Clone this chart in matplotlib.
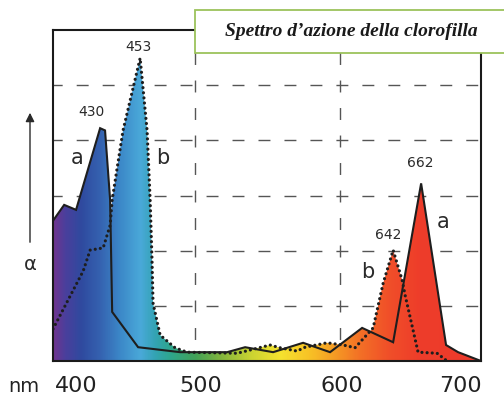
import matplotlib
matplotlib.use("Agg")
import matplotlib.pyplot as plt
import numpy as np
from matplotlib.colors import LinearSegmentedColormap, Normalize
from matplotlib.patches import Rectangle

# chlorophyll a (solid) and b (dotted): wavelength (nm) vs relative action
wl_a = [401.4, 409.7, 417.9, 434.5, 437.9, 441.4, 442.8, 460.7, 489.7, 522.1,
        534.5, 553.8, 574.5, 593.1, 615.2, 636.6, 655.9, 673.1, 681.4, 697.2]
val_a = [2.52, 2.83, 2.74, 4.22, 4.18, 2.92, 0.89, 0.25, 0.16, 0.16,
         0.25, 0.16, 0.33, 0.16, 0.60, 0.34, 3.22, 0.29, 0.16, 0.0]

wl_b = [402.0, 422.8, 427.6, 436.6, 441.4, 442.8, 450.3, 462.1, 466.9, 469.0,
        470.3, 471.0, 475.9, 486.2, 494.5, 529.0, 551.7, 558.6, 570.3, 575.9,
        591.0, 602.1, 610.3, 622.8, 629.7, 636.6, 642.8, 644.8, 653.8, 666.9, 673.8]
val_b = [0.58, 1.63, 2.01, 2.05, 2.46, 2.92, 4.18, 5.49, 4.18, 2.92,
         1.83, 1.05, 0.47, 0.24, 0.16, 0.14, 0.29, 0.24, 0.18, 0.25,
         0.33, 0.29, 0.24, 0.60, 1.41, 2.01, 1.47, 1.20, 0.16, 0.14, 0.0]

# peak labels: text, peak index in its series, which series
peak_text = ["430", "453", "642", "662"]
peak_series = ["a", "b", "b", "a"]
peak_idx = [3, 7, 25, 16]

tick_wl = [418, 504, 601, 683]
tick_labels = ["400", "500", "600", "700"]

title = "Spettro d\u2019azione della clorofilla"

# spectrum colours along the wavelength axis
spec_wl = [402, 410, 421, 434, 448, 462, 472, 483, 500, 517, 538, 559, 579,
           597, 614, 634, 655, 697.2]
spec_col = ["#6e3590", "#4a3f9c", "#2f4a9f", "#3562b0", "#3c88c8", "#4aa9d9",
            "#33a3b4", "#2ea68c", "#42a258", "#7fb43e", "#c9d332", "#f5e22f",
            "#f8c226", "#f59a24", "#f37026", "#f04f29", "#ee3d2a", "#ec3a2c"]

fig = plt.figure(figsize=(5.04, 3.98), dpi=100)
ax = fig.add_axes([53 / 504, 37 / 398, 428 / 504, 331 / 398])
xmin, xmax = 402.0, 697.2
ax.set_xlim(xmin, xmax)
ax.set_ylim(0, 6)

# dashed grid
for y in range(1, 6):
    ax.axhline(y, color="#555555", lw=1, ls=(2, (8.6, 10.1)), zorder=1)
for x in [500, 600]:
    ax.axvline(x, color="#555555", lw=1, ls=(4.3, (8.6, 11.2)), zorder=1)

# gradient fill under both curves
pos = (np.array(spec_wl) - xmin) / (xmax - xmin)
cmap = LinearSegmentedColormap.from_list("spec", list(zip(pos, spec_col)))
grad = np.linspace(xmin, xmax, 800)[None, :]
for wl, val in [(wl_a, val_a), (wl_b, val_b)]:
    fb = ax.fill_between(wl, 0, val, color="none", lw=0)
    im = ax.imshow(grad, extent=(xmin, xmax, 0, 6), aspect="auto", cmap=cmap,
                   norm=Normalize(xmin, xmax), zorder=1.5, interpolation="bilinear")
    im.set_clip_path(fb.get_paths()[0], ax.transData)

ax.plot(wl_a, val_a, color="#1e1e1e", lw=1.5, zorder=3, solid_joinstyle="miter")
ax.plot(wl_b, val_b, color="#1e1e1e", lw=2.3, ls=(0, (0.01, 1.6)),
        dash_capstyle="round", zorder=3)

series = {"a": (wl_a, val_a), "b": (wl_b, val_b)}
offsets = [(-6.5, 11.5), (-1.5, 8), (-3.6, 10.8), (-0.7, 14.4)]
for txt, s, i, off in zip(peak_text, peak_series, peak_idx, offsets):
    w, v = series[s]
    ax.annotate(txt, xy=(w[i], v[i]), xytext=off, textcoords="offset points",
                ha="center", va="center", fontsize=10, color="#2a2a2a", zorder=4)

for txt, x, y in [("a", 418.6, 3.68), ("b", 477.9, 3.68),
                  ("b", 619.3, 1.61), ("a", 671.0, 2.52)]:
    ax.text(x, y, txt, ha="center", va="center", fontsize=15, color="#2a2a2a", zorder=4)

ax.set_yticks([])
ax.set_xticks(tick_wl, tick_labels)
ax.tick_params(axis="x", length=0, pad=11, labelsize=16, labelcolor="#222222")
for sp in ax.spines.values():
    sp.set_linewidth(1.5)
    sp.set_color("#1a1a1a")
    sp.set_zorder(5)

# title box over the top right
fig.add_artist(Rectangle((195 / 504, 1 - 53 / 398), 320 / 504, 43 / 398,
                         transform=fig.transFigure, facecolor="white",
                         edgecolor="#9cc35c", lw=1.3, zorder=5, clip_on=False))
fig.text(351 / 504, 1 - 32 / 398, title, ha="center", va="center",
         family="Liberation Serif", style="italic", weight="bold",
         fontsize=14, color="#1a1a1a", zorder=6)

# y-axis arrow and alpha label, x unit
ax.annotate("", xy=(30 / 504, 1 - 110 / 398), xytext=(30 / 504, 1 - 245 / 398),
            xycoords="figure fraction", textcoords="figure fraction",
            arrowprops=dict(arrowstyle="-|>", lw=1, color="#2a2a2a",
                            mutation_scale=13))
fig.text(30 / 504, 1 - 265 / 398, "\u03b1", ha="center", va="center",
         fontsize=14, color="#2a2a2a")
fig.text(24 / 504, 1 - 387 / 398, "nm", ha="center", va="center",
         fontsize=14, color="#222222")

fig.savefig("out.png", dpi=100)
